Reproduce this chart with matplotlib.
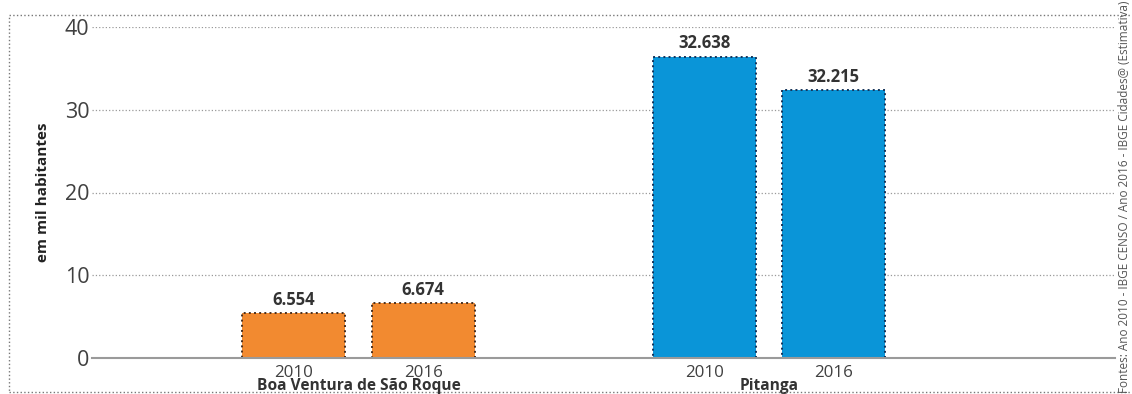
import numpy as np
import matplotlib.pyplot as plt
from matplotlib.patches import Rectangle
from matplotlib.transforms import blended_transform_factory

plt.rcParams['font.family'] = ['Open Sans', 'DejaVu Sans']

municipios = ['Boa Ventura de São Roque', 'Pitanga']
anos = ['2010', '2016']
# bar heights as drawn (mil habitantes) and printed labels
alturas = [[5.43, 6.7], [36.4, 32.35]]
rotulos = [['6.554', '6.674'], ['32.638', '32.215']]
cores = ['#F28A30', '#0A95D8']
bordas = ['#4a3020', '#15345a']
fonte = 'Fontes: Ano 2010 - IBGE CENSO / Ano 2016 - IBGE Cidades@ (Estimativa)'

W, H = 1132, 394
fig = plt.figure(figsize=(W / 100, H / 100), dpi=100)
ax = fig.add_axes([92 / W, 35.7 / H, 1023 / W, 331.6 / H])

off = 0.158
largura = 0.251
xt, xl = [], []
for g, nome in enumerate(municipios):
    for k, ano in enumerate(anos):
        x = g + (k - 0.5) * 2 * off
        ax.bar(x, alturas[g][k], width=largura, color=cores[g],
               edgecolor=bordas[g], linewidth=1.4, linestyle=':', zorder=3)
        ax.annotate(rotulos[g][k], (x, alturas[g][k]), xytext=(0, 3),
                    textcoords='offset points', ha='center', va='bottom',
                    fontsize=12, fontweight='bold', color='#333333')
        xt.append(x)
        xl.append(ano)

trans = blended_transform_factory(ax.transData, fig.transFigure)
for g, nome in enumerate(municipios):
    ax.text(g, 3.5 / H, nome, transform=trans, ha='center', va='baseline',
            fontsize=11.2, fontweight='bold', color='#333333')

ax.set_xlim(-0.649, 1.843)
ax.set_ylim(0, 40)
ax.set_yticks([0, 10, 20, 30, 40])
ax.set_xticks(xt)
ax.set_xticklabels(xl)
ax.tick_params(axis='y', length=0, pad=2, labelsize=15.5, labelcolor='#404040')
ax.tick_params(axis='x', length=0, pad=4.5, labelsize=12.2, labelcolor='#404040')
ax.yaxis.grid(True, linestyle=':', color='#999999', linewidth=0.9, zorder=0)
for s in ['top', 'right', 'left']:
    ax.spines[s].set_visible(False)
ax.spines['bottom'].set_color('#9a9a9a')
ax.spines['bottom'].set_linewidth(1.5)
ax.spines['bottom'].set_zorder(4)

ax.set_ylabel('em mil habitantes', fontsize=11, fontweight='bold', color='#222222')
ax.yaxis.set_label_coords((50 - 92) / 1023, 0.5)

fig.text(1124 / W, 0.5, fonte, rotation=90, ha='center', va='center',
         fontsize=8.5, color='#555555')

fig.patches.append(Rectangle((9 / W, 2 / H), 1.2, (379 - 2) / H, transform=fig.transFigure,
                             fill=False, linestyle=':', edgecolor='#777777',
                             linewidth=1.0, clip_on=False))

fig.savefig('out.png', dpi=100)
